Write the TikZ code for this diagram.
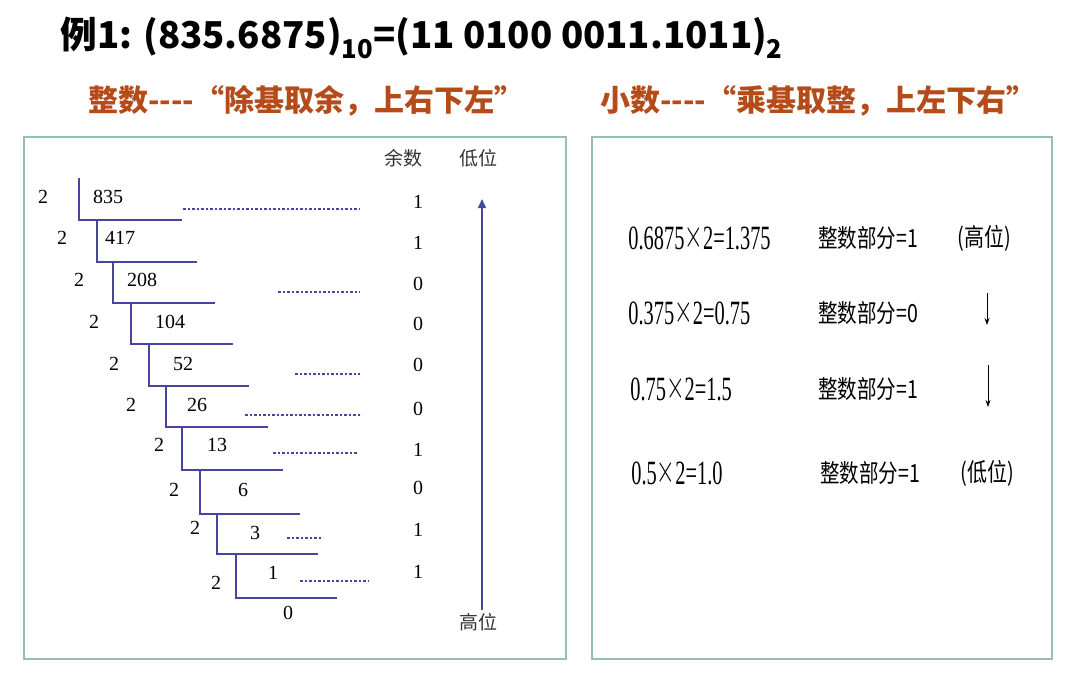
\documentclass[tikz,border=0pt]{standalone}
\usepackage{fontspec}
\setmainfont{Liberation Serif}
\newfontfamily\cjk{Noto Sans CJK SC}
\usetikzlibrary{positioning, arrows.meta}
\definecolor{frame}{RGB}{150,190,180}
\definecolor{ladder}{RGB}{70,70,160}
\definecolor{rust}{RGB}{180,75,25}
\newcommand{\narrow}[2]{\scalebox{#1}[1]{#2}}
\newcommand{\bigx}{\raisebox{1.5pt}{\scalebox{1.6}{$\times$}}}

\begin{document}
\begin{tikzpicture}[x=1pt, y=-1pt, thick,
  num/.style = {font=\fontsize{20}{20}\selectfont, inner sep=0pt},
  hdr/.style = {font=\cjk\fontsize{19}{19}\selectfont, text=black!80, inner sep=0pt},
  calc/.style = {font=\fontsize{34}{34}\selectfont, inner sep=0pt, anchor=west},
  part/.style = {font=\cjk\fontsize{25}{25}\selectfont, inner sep=0pt, anchor=west},
  sub/.style = {font=\cjk\bfseries\fontsize{30}{30}\selectfont, text=rust, anchor=west, inner sep=0pt},
  rung/.style = {draw=ladder, line width=1.4pt},
  lead/.style = {draw=ladder, line width=1.1pt, dash pattern=on 2.5pt off 2pt},
  box/.style = {draw=frame, line width=1.6pt, fill=white}]
\useasboundingbox (0,0) rectangle (1076,680);

\node[font=\cjk\bfseries\fontsize{37}{37}\selectfont, anchor=west, inner sep=0pt] (title) at (60,38)
  {\narrow{0.99}{例1: (835.6875)\textsubscript{10}=(11 0100 0011.1011)\textsubscript{2}}};
\node[sub] (intpart) at (88,101) {\narrow{1.0}{整数----“除基取余，上右下左”}};
\node[sub] (fracpart) at (600,101) {\narrow{1.0}{小数----“乘基取整，上左下右”}};

\draw[box] (24,137) rectangle (566,659);
\draw[box] (592,137) rectangle (1052,659);

\node[num] (d1) at (43,197) {2};
\node[num] (d2) at (62,238) {2};
\node[num] (d3) at (79,280) {2};
\node[num] (d4) at (94,322) {2};
\node[num] (d5) at (114,364) {2};
\node[num] (d6) at (131,405) {2};
\node[num] (d7) at (159,445) {2};
\node[num] (d8) at (174,490) {2};
\node[num] (d9) at (195,528) {2};
\node[num] (d10) at (216,583) {2};

\node[num] (q1) at (108,197) {835};
\node[num] (q2) at (120,238) {417};
\node[num] (q3) at (142,280) {208};
\node[num] (q4) at (170,322) {104};
\node[num] (q5) at (183,364) {52};
\node[num] (q6) at (197,405) {26};
\node[num] (q7) at (217,445) {13};
\node[num] (q8) at (243,490) {6};
\node[num] (q9) at (255,533) {3};
\node[num] (q10) at (273,573) {1};
\node[num] (q11) at (288,613) {0};

\draw[rung] (79,178) -- (79,220) -- (182,220);
\draw[rung] (97,220) -- (97,262) -- (197,262);
\draw[rung] (113,262) -- (113,303) -- (215,303);
\draw[rung] (131,303) -- (131,344) -- (233,344);
\draw[rung] (149,344) -- (149,386) -- (249,386);
\draw[rung] (166,386) -- (166,427) -- (268,427);
\draw[rung] (182,427) -- (182,470) -- (283,470);
\draw[rung] (200,470) -- (200,514) -- (300,514);
\draw[rung] (217,514) -- (217,554) -- (318,554);
\draw[rung] (236,554) -- (236,598) -- (337,598);

\node[hdr] (rem) at (403,158) {余数};
\node[hdr] (lo) at (478,158) {低位};
\node[hdr] (hi) at (478,622) {高位};

\node[num] (r1) at (418,202) {1};
\node[num] (r2) at (418,243) {1};
\node[num] (r3) at (418,284) {0};
\node[num] (r4) at (418,324) {0};
\node[num] (r5) at (418,365) {0};
\node[num] (r6) at (418,409) {0};
\node[num] (r7) at (418,450) {1};
\node[num] (r8) at (418,488) {0};
\node[num] (r9) at (418,530) {1};
\node[num] (r10) at (418,572) {1};

\coordinate (l1) at (183,209);
\coordinate (l3) at (278,292);
\coordinate (l5) at (295,374);
\coordinate (l6) at (245,415);
\coordinate (l7) at (273,453);
\coordinate (l9) at (287,538);
\coordinate (l10) at (300,581);
\draw[lead] (l1) -- (360,209);
\draw[lead] (l3) -- (360,292);
\draw[lead] (l5) -- (360,374);
\draw[lead] (l6) -- (362,415);
\draw[lead] (l7) -- (358,453);
\draw[lead] (l9) -- (323,538);
\draw[lead] (l10) -- (369,581);

\coordinate (top) at (482,199);
\draw[draw=ladder, line width=1.4pt, -{Triangle[width=8pt,length=9pt]}, ladder] (hi.north -| top) ++(0,-3) -- (top);

\node[calc] (c1) at (628,238) {\narrow{0.6}{0.6875\bigx 2=1.375}};
\node[calc] (c2) at (628,313) {\narrow{0.6}{0.375\bigx 2=0.75}};
\node[calc] (c3) at (630,389) {\narrow{0.6}{0.75\bigx 2=1.5}};
\node[calc] (c4) at (631,473) {\narrow{0.6}{0.5\bigx 2=1.0}};

\node[part] (p1) at (818,238) {\narrow{0.78}{整数部分=1}};
\node[part] (p2) at (818,313) {\narrow{0.78}{整数部分=0}};
\node[part] (p3) at (818,389) {\narrow{0.78}{整数部分=1}};
\node[part] (p4) at (820,473) {\narrow{0.78}{整数部分=1}};

\node[part] (high) at (957,238) {\narrow{0.8}{(高位)}};
\node[part] (low) at (960,473) {\narrow{0.8}{(低位)}};

\coordinate (a1) at (987,293);
\coordinate (a2) at (987,325);
\coordinate (a3) at (988,365);
\coordinate (a4) at (988,407);
\draw[line width=0.9pt, -{Stealth[length=7pt,width=5pt]}] (a1) -- (a2);
\draw[line width=0.9pt, -{Stealth[length=7pt,width=5pt]}] (a3) -- (a4);

\end{tikzpicture}
\end{document}
